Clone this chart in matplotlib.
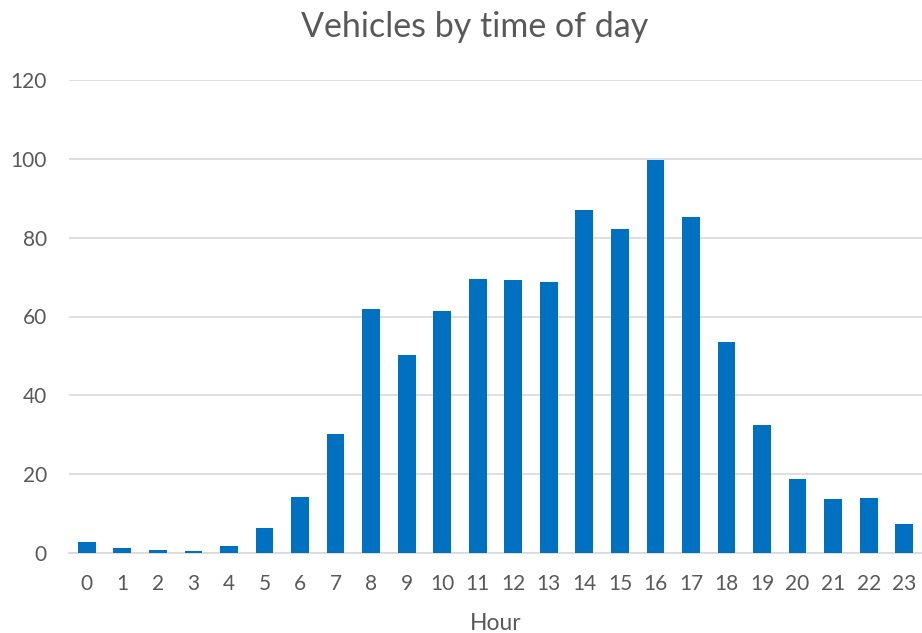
import matplotlib
matplotlib.use('Agg')
import matplotlib.pyplot as plt
import numpy as np

hours = [str(h) for h in range(24)]
vehicles = [2.8, 1.2, 0.7, 0.4, 1.7, 6.4, 14.2, 30.2, 62.0, 50.3, 61.4, 69.5,
            69.3, 68.7, 87.1, 82.3, 99.6, 85.2, 53.6, 32.6, 18.8, 13.7, 14.0, 7.3]
y_ticks = [0, 20, 40, 60, 80, 100, 120]

plt.rcParams['font.family'] = ['Lato', 'DejaVu Sans']
text_color = '#595959'
grid_color = '#d9d9d9'

fig = plt.figure(figsize=(9.22, 6.33), dpi=100)
ax = fig.add_axes([69 / 922, 1 - 553 / 633, 1 - 69 / 922, (553 - 80) / 633])

x = np.arange(len(hours))
ax.bar(x, vehicles, width=0.5, color='#0070c0', zorder=3)

ax.set_xlim(-0.5, len(hours) - 0.5)
ax.set_ylim(0, 120)
ax.set_yticks(y_ticks)
ax.set_xticks(x, hours)
ax.tick_params(axis='both', length=0, labelsize=15, colors=text_color)
ax.tick_params(axis='y', pad=16)
ax.tick_params(axis='x', pad=15)

ax.grid(axis='y', color=grid_color, linewidth=1.2, zorder=0)
for side in ['top', 'right', 'left']:
    ax.spines[side].set_visible(False)
ax.spines['bottom'].set_color(grid_color)
ax.spines['bottom'].set_linewidth(1.2)

ax.set_xlabel('Hour', fontsize=16.5, color=text_color, labelpad=14)
fig.text(475 / 922, 1 - 27 / 633, 'Vehicles by time of day', ha='center', va='center',
         fontsize=24.5, color=text_color)

plt.savefig('out.png', dpi=100)
